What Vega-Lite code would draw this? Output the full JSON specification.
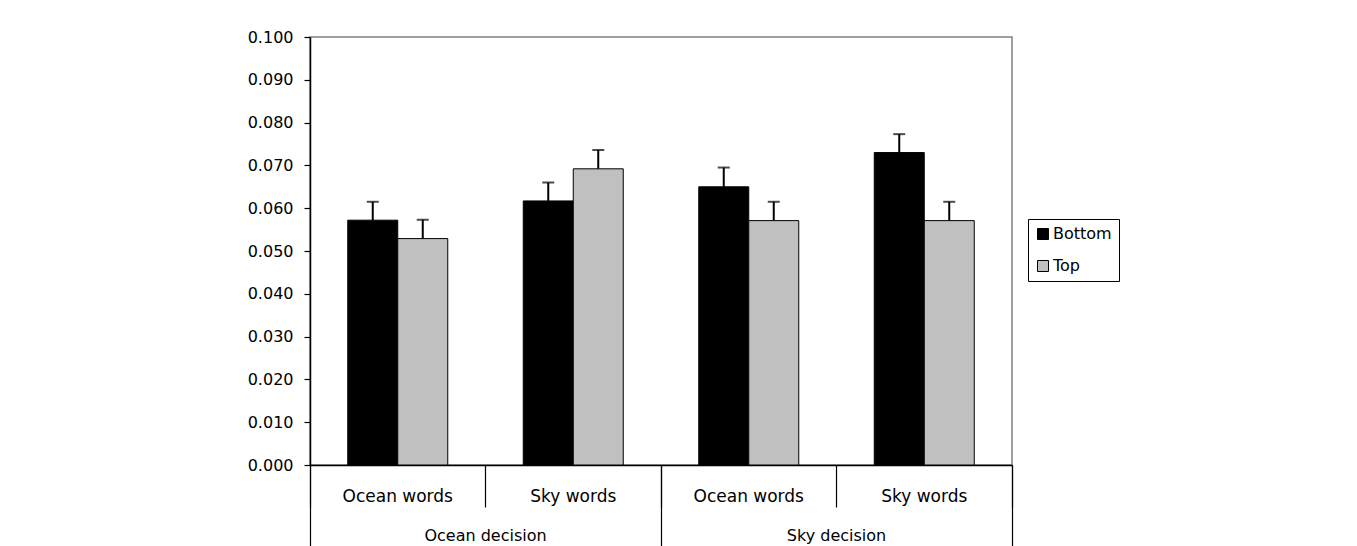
{
  "$schema": "https://vega.github.io/schema/vega-lite/v6.json",
  "width": 702,
  "height": 428,
  "autosize": {"type": "none"},
  "padding": {"left": 310, "top": 37, "right": 345, "bottom": 81},
  "background": "white",
  "config": {
    "font": "DejaVu Sans",
    "view": {"stroke": "#808080", "strokeWidth": 1.5},
    "axis": {"grid": false, "domainColor": "#000000", "tickColor": "#000000", "labelColor": "#000000", "labelFont": "DejaVu Sans", "labelFontSize": 16, "domainWidth": 1.5, "tickWidth": 1.2}
  },
  "data": {
    "values": [
      {"decision": "Ocean decision", "words": "Ocean words", "cell": "Ocean decision|Ocean words", "series": "Bottom", "value": 0.0572, "upper": 0.0615},
      {"decision": "Ocean decision", "words": "Ocean words", "cell": "Ocean decision|Ocean words", "series": "Top", "value": 0.0529, "upper": 0.0573},
      {"decision": "Ocean decision", "words": "Sky words", "cell": "Ocean decision|Sky words", "series": "Bottom", "value": 0.0617, "upper": 0.0660},
      {"decision": "Ocean decision", "words": "Sky words", "cell": "Ocean decision|Sky words", "series": "Top", "value": 0.0692, "upper": 0.0736},
      {"decision": "Sky decision", "words": "Ocean words", "cell": "Sky decision|Ocean words", "series": "Bottom", "value": 0.0650, "upper": 0.0695},
      {"decision": "Sky decision", "words": "Ocean words", "cell": "Sky decision|Ocean words", "series": "Top", "value": 0.0571, "upper": 0.0615},
      {"decision": "Sky decision", "words": "Sky words", "cell": "Sky decision|Sky words", "series": "Bottom", "value": 0.0730, "upper": 0.0773},
      {"decision": "Sky decision", "words": "Sky words", "cell": "Sky decision|Sky words", "series": "Top", "value": 0.0571, "upper": 0.0615}
    ]
  },
  "resolve": {"scale": {"x": "independent"}, "axis": {"x": "independent"}},
  "layer": [
    {
      "layer": [
        {
          "mark": {"type": "rule", "color": "#000000", "strokeWidth": 2},
          "encoding": {
            "x": {"field": "cell", "type": "nominal"},
            "xOffset": {"field": "series"},
            "y": {"field": "value", "type": "quantitative"},
            "y2": {"field": "upper"}
          }
        },
        {
          "mark": {"type": "tick", "color": "#000000", "thickness": 2, "size": 12},
          "encoding": {
            "x": {"field": "cell", "type": "nominal"},
            "xOffset": {"field": "series"},
            "y": {"field": "upper", "type": "quantitative"}
          }
        },
        {
          "mark": {"type": "bar", "stroke": "#000000", "strokeWidth": 1},
          "encoding": {
            "x": {
              "field": "cell", "type": "nominal", "sort": null, "title": null,
              "scale": {"paddingInner": 0, "paddingOuter": 0},
              "axis": {"orient": "bottom", "labelAngle": 0, "labelAlign": "center", "labelBaseline": "top", "labelExpr": "split(datum.label, '|')[1]", "bandPosition": 1, "tickExtra": true, "tickSize": 42, "labelPadding": -19, "labelFontSize": 17}
            },
            "xOffset": {"field": "series", "type": "nominal", "sort": ["Bottom", "Top"], "scale": {"paddingInner": 0, "paddingOuter": 0.755}},
            "y": {
              "field": "value", "type": "quantitative", "title": null,
              "scale": {"domain": [0, 0.1], "nice": false},
              "axis": {"values": [0, 0.01, 0.02, 0.03, 0.04, 0.05, 0.06, 0.07, 0.08, 0.09, 0.1], "format": ".3f", "tickSize": 6, "labelPadding": 11, "labelFontSize": 16}
            },
            "color": {
              "field": "series", "type": "nominal", "title": null,
              "scale": {"domain": ["Bottom", "Top"], "range": ["#000000", "#C0C0C0"]},
              "legend": {"orient": "none", "legendX": 718, "legendY": 182, "strokeColor": "#000000", "padding": 7, "symbolType": "square", "symbolSize": 121, "symbolStrokeColor": "#000000", "symbolStrokeWidth": 1, "labelFontSize": 16, "labelFont": "DejaVu Sans", "labelColor": "#000000", "rowPadding": 16, "labelOffset": 2}
            }
          }
        }
      ]
    },
    {
      "mark": {"type": "bar", "opacity": 0},
      "encoding": {
        "x": {
          "field": "decision", "type": "nominal", "sort": null, "title": null,
          "scale": {"type": "band", "paddingInner": 0, "paddingOuter": 0},
          "axis": {"orient": "bottom", "labelAngle": 0, "labelAlign": "center", "labelBaseline": "top", "bandPosition": 1, "tickExtra": true, "tickSize": 100, "labelPadding": -38, "domain": false, "labelFontSize": 16}
        },
        "y": {"field": "value", "type": "quantitative"}
      }
    }
  ]
}
